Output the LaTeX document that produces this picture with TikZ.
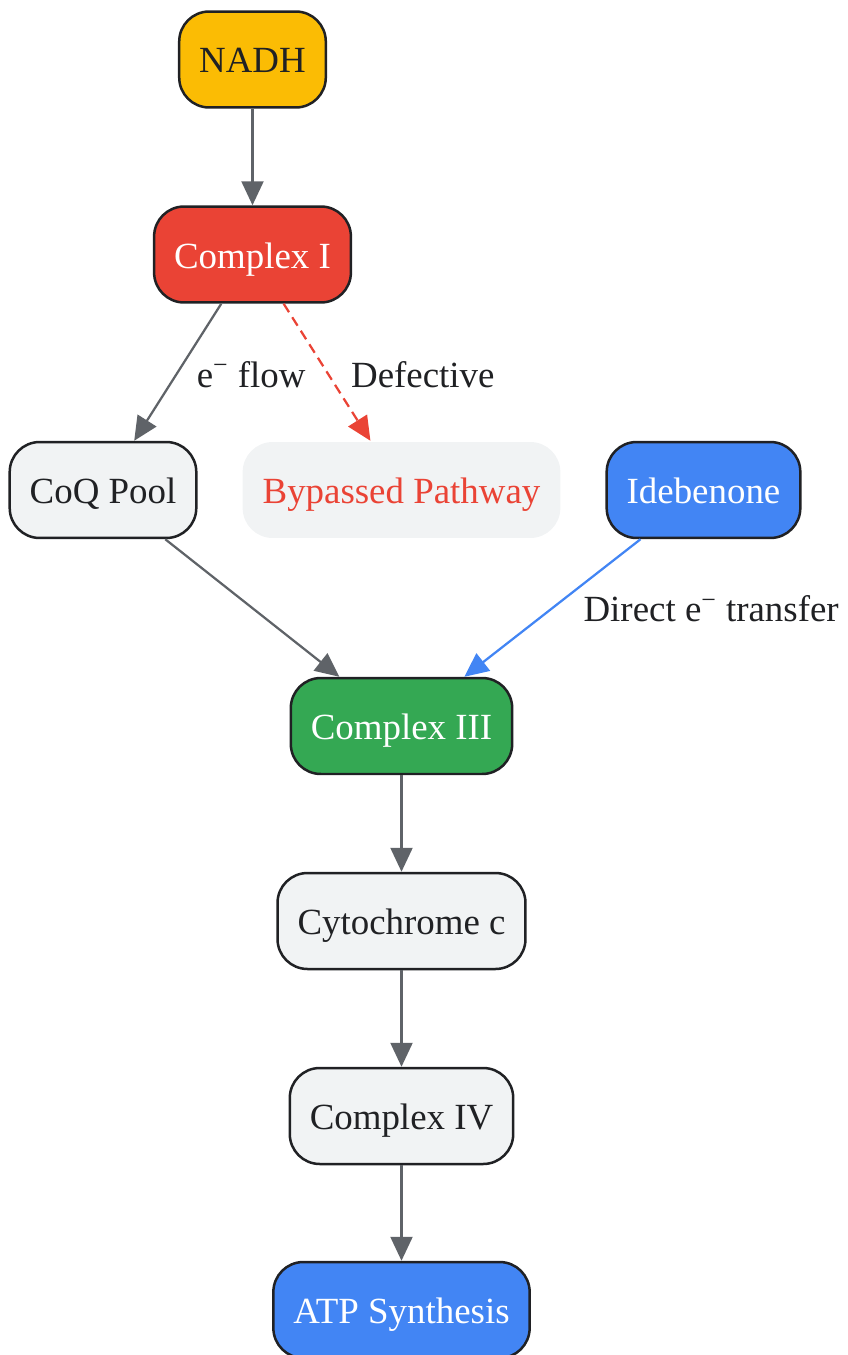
\documentclass[tikz,border=0pt]{standalone}
\usepackage{fontspec}
\setmainfont{Liberation Serif}
\usetikzlibrary{arrows.meta}
\tikzset{>={Triangle[length=0.48cm,width=0.44cm]}}
\definecolor{ink}{HTML}{202124}
\definecolor{wire}{HTML}{5F6368}
\definecolor{paper}{HTML}{F1F3F4}
\definecolor{gyellow}{HTML}{FBBC04}
\definecolor{gred}{HTML}{EA4335}
\definecolor{gblue}{HTML}{4285F4}
\definecolor{ggreen}{HTML}{34A853}

\begin{document}
\begin{tikzpicture}[x=0.02cm,y=-0.02cm,
  box/.style={draw=ink, line width=0.05cm, rounded corners=0.6cm, fill=paper, text=ink,
    minimum height=1.92cm, inner xsep=0.4cm, text height=0.67cm, text depth=0.13cm,
    font=\fontsize{21}{25}\selectfont},
  edge/.style={->, draw=wire, line width=0.045cm},
  lbl/.style={inner sep=0pt, text=ink, anchor=west, font=\fontsize{21}{25}\selectfont}]
  \useasboundingbox (0,0) rectangle (848,1355);
  % nodes
  \node[box, fill=gyellow] (nadh) at (252.5,59.5) {NADH};
  \node[box, fill=gred, text=white] (cI) at (252.5,254.5) {Complex I};
  \node[box] (coq) at (103,490) {CoQ Pool};
  \node[box, draw=none, text=gred] (bypass) at (401.5,490) {Bypassed Pathway};
  \node[box, fill=gblue, text=white] (ide) at (703.5,490) {Idebenone};
  \node[box, fill=ggreen, text=white] (cIII) at (401.5,726) {Complex III};
  \node[box] (cytc) at (401.5,921) {Cytochrome c};
  \node[box] (cIV) at (401.5,1116) {Complex IV};
  \node[box, fill=gblue, text=white] (atp) at (401.5,1310) {ATP Synthesis};
  % edges
  \draw[edge] (nadh) -- (cI);
  \draw[edge] (cI) -- node[lbl, xshift=0.36cm, yshift=-0.04cm] (lflow) {e\textsuperscript{−} flow} (coq);
  \draw[edge, draw=gred, dash pattern=on 0.2cm off 0.12cm] (cI) -- node[lbl, xshift=0.46cm, yshift=-0.04cm] (ldef) {Defective} (bypass);
  \draw[edge] (coq) -- (cIII);
  \draw[edge, draw=gblue] (ide) -- node[lbl, xshift=0.6cm, yshift=-0.02cm] (ldir) {Direct e\textsuperscript{−} transfer} (cIII);
  \draw[edge] (cIII) -- (cytc);
  \draw[edge] (cytc) -- (cIV);
  \draw[edge] (cIV) -- (atp);
\end{tikzpicture}
\end{document}
